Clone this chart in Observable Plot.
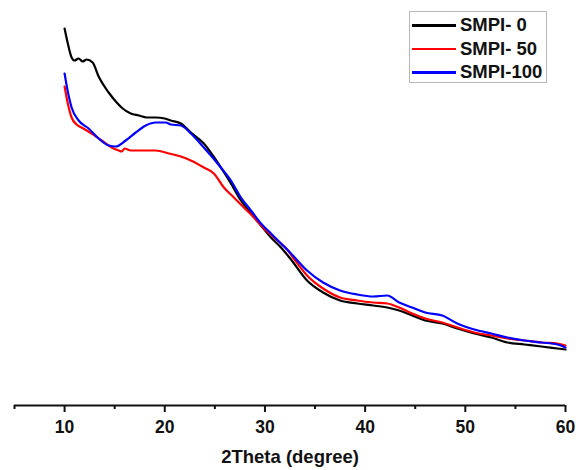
<!DOCTYPE html>
<html>
<head>
<meta charset="utf-8">
<script src="https://cdn.jsdelivr.net/npm/d3@7"></script>
<script src="https://cdn.jsdelivr.net/npm/@observablehq/plot@0.6"></script>
<style>
  html, body { margin: 0; padding: 0; background: #fff; }
  #wrap { position: relative; width: 578px; height: 470px; font-family: "Liberation Sans", Arial, sans-serif; }
  #legend { position: absolute; left: 409px; top: 11px; width: 136px; height: 70px; border: 1px solid #b8b8b8; background: #fff; }
  .row { position: absolute; left: 0; height: 0; }
  .row .ln { position: absolute; left: 2px; width: 44px; height: 2.5px; top: -1px; }
  .row .tx { position: absolute; left: 50px; top: -11px; font-weight: bold; font-size: 18.5px; line-height: 22px; white-space: nowrap; color: #111; }
</style>
</head>
<body>
<div id="wrap"></div>
<script>
// Series names and colours
const seriesNames = ["SMPI- 0", "SMPI- 50", "SMPI-100"];
const seriesColors = ["#000000", "#ff0000", "#0000ff"];

// 2Theta (degree) and intensity (a.u.)
const theta0 = [10.0,10.3,10.7,11.0,11.4,11.8,12.2,12.8,13.4,14.4,15.2,15.8,16.6,17.4,18.2,19.1,20.0,20.6,21.6,22.6,23.9,24.8,25.6,26.6,27.6,28.6,29.6,30.6,31.6,32.6,34.2,35.8,37.5,39.2,40.8,42.2,43.4,44.7,46.0,47.7,49.2,50.9,52.6,54.2,55.9,57.6,59.2,60.0];
const int0   = [372,358,343,340,342,339,341,338,324,308,298,292,287,285,283,283,282,280,277,268,257,245,233,217,200,187,175,163,153,141,120,108,100,97,95,93,90,85,80,77,72,67,63,58,56,54,52,51];

const theta50 = [10.0,10.3,10.7,11.2,11.7,12.7,13.7,14.7,15.4,15.7,16.0,16.6,17.4,18.2,19.1,20.4,21.6,22.6,23.9,24.9,25.9,26.9,27.9,28.9,29.9,30.9,32.3,32.8,34.2,35.8,37.5,39.2,40.8,42.2,43.4,44.7,46.0,47.7,49.2,50.9,52.6,54.2,55.9,57.6,59.2,60.0];
const int50   = [314,298,283,276,273,267,260,253,250,249,252,250,250,250,250,247,244,240,233,227,213,203,193,183,172,163,150,143,125,112,103,100,98,97,93,87,82,78,73,68,65,62,60,58,57,55];

const theta100 = [10.0,10.3,10.7,11.4,12.4,13.4,14.4,15.1,16.1,17.1,18.1,19.1,20.1,20.6,21.6,22.6,23.9,25.6,26.6,27.6,28.6,29.6,30.6,31.6,32.6,34.2,35.8,37.5,39.2,40.8,42.2,43.4,44.7,46.0,47.7,49.2,50.9,52.6,54.2,55.9,57.6,59.2,60.0];
const int100   = [327,310,293,280,272,262,255,254,260,268,275,278,278,276,275,267,253,233,220,203,190,177,167,157,147,130,118,110,106,104,105,98,93,88,85,77,71,67,63,60,58,56,53];

// X axis ticks
const majorTicks = [10, 20, 30, 40, 50, 60];
const minorTicks = [5, 15, 25, 35, 45, 55];
const xLabel = "2Theta (degree)";

const data = [];
[[theta0, int0], [theta50, int50], [theta100, int100]].forEach(([t, v], s) => {
  t.forEach((x, i) => data.push({ series: seriesNames[s], theta: x, intensity: v[i] }));
});

const font = "Liberation Sans, Arial, sans-serif";

const chart = Plot.plot({
  width: 578,
  height: 470,
  marginLeft: 14,
  marginRight: 13,
  marginTop: 0,
  marginBottom: 65,
  style: { fontFamily: font, background: "#fff", overflow: "visible" },
  x: { domain: [5, 60] },
  y: { domain: [-5, 400], axis: null },
  color: { domain: seriesNames, range: seriesColors },
  marks: [
    Plot.ruleY([-5], { stroke: "#111", strokeWidth: 2 }),
    Plot.axisX(minorTicks, { tickSize: 4, strokeWidth: 2, stroke: "#111", text: null, label: null }),
    Plot.axisX(majorTicks, { tickSize: 7, tickPadding: 8, strokeWidth: 2, stroke: "#111", fill: "#111", fontSize: 17.5, fontWeight: "bold", label: null }),
    Plot.text([xLabel], { frameAnchor: "bottom", dy: 57, text: d => d, fontSize: 18.5, fontWeight: "bold", fill: "#111" }),
    Plot.line(data, { x: "theta", y: "intensity", z: "series", stroke: "series", strokeWidth: 2.2, curve: "monotone-x" })
  ]
});

const wrap = document.getElementById("wrap");
wrap.appendChild(chart);

// Legend (HTML overlay)
const legend = document.createElement("div");
legend.id = "legend";
const rowTops = [13, 36.5, 60];
seriesNames.forEach((name, i) => {
  const row = document.createElement("div");
  row.className = "row";
  row.style.top = rowTops[i] + "px";
  const ln = document.createElement("div");
  ln.className = "ln";
  ln.style.background = seriesColors[i];
  const tx = document.createElement("div");
  tx.className = "tx";
  tx.textContent = name;
  row.appendChild(ln);
  row.appendChild(tx);
  legend.appendChild(row);
});
wrap.appendChild(legend);
</script>
</body>
</html>
